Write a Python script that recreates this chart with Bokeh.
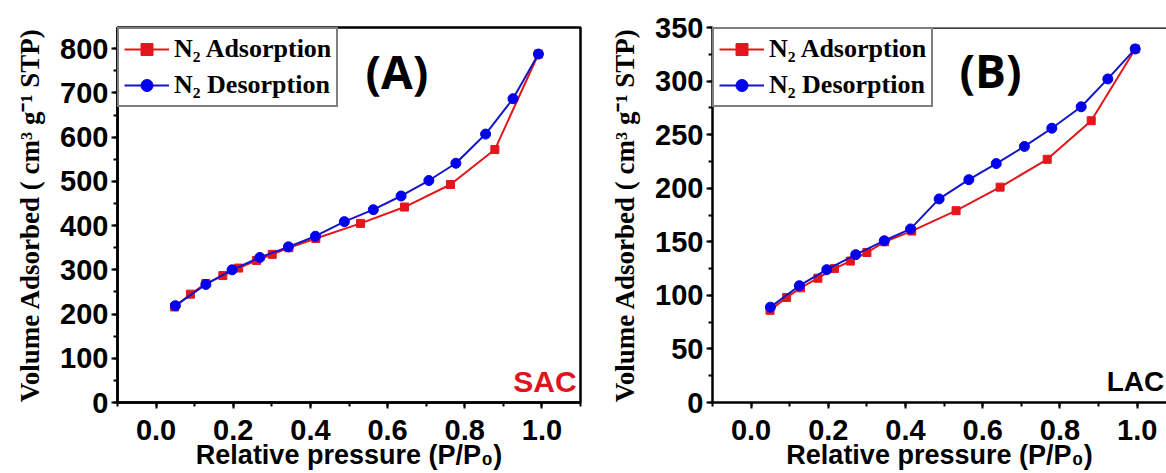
from bokeh.plotting import figure
from bokeh.layouts import row
from bokeh.models import (Legend, LegendItem, Label, SingleIntervalTicker,
                          NumeralTickFormatter, Range1d, Span)
from bokeh.embed import file_html
from bokeh.resources import INLINE

# ---------------- data ----------------
sac_ads_p = [0.048, 0.089, 0.129, 0.173, 0.214, 0.260, 0.301, 0.344, 0.414, 0.530, 0.644, 0.763, 0.878, 0.991]
sac_ads_v = [216, 245, 269, 287, 304, 321, 335, 350, 371, 405, 442, 493, 572, 788]
sac_des_p = [0.991, 0.925, 0.854, 0.777, 0.707, 0.635, 0.563, 0.488, 0.413, 0.343, 0.269, 0.197, 0.129, 0.050]
sac_des_v = [788, 687, 607, 541, 502, 467, 436, 409, 376, 352, 328, 300, 267, 219]

lac_ads_p = [0.049, 0.092, 0.128, 0.173, 0.216, 0.257, 0.300, 0.346, 0.416, 0.531, 0.645, 0.767, 0.881, 0.995]
lac_ads_v = [86, 98, 107, 116, 125, 132, 140, 150, 160, 179, 201, 227, 263, 330]
lac_des_p = [0.995, 0.924, 0.855, 0.779, 0.708, 0.635, 0.564, 0.487, 0.413, 0.345, 0.271, 0.196, 0.125, 0.050]
lac_des_v = [330, 302, 276, 256, 239, 223, 208, 190, 162, 151, 138, 124, 109, 89]

x_ticks_step = 0.2
ads_label = "N\u2082 Adsorption"
des_label = "N\u2082 Desorption"
x_title = "Relative pressure (P/P\u2080)"
y_title = "Volume Adsorbed ( cm\u00b3 g\u207b\u00b9 STP)"

RED = "#e3161c"
BLUE = "#1414c8"
TICK_FONT = "Liberation Sans"
SERIF = "Liberation Serif"


def style_axes(p, y_step):
    p.xaxis.ticker = SingleIntervalTicker(interval=x_ticks_step, num_minor_ticks=2)
    p.yaxis.ticker = SingleIntervalTicker(interval=y_step, num_minor_ticks=2)
    p.xaxis.formatter = NumeralTickFormatter(format="0.0")
    for ax in (p.xaxis, p.yaxis):
        ax.axis_line_width = 2.5
        ax.axis_line_color = "black"
        ax.major_tick_line_width = 2
        ax.minor_tick_line_width = 2
        ax.major_tick_out = 6
        ax.major_tick_in = 0
        ax.minor_tick_out = 4
        ax.minor_tick_in = 0
        ax.major_label_text_font = TICK_FONT
        ax.major_label_text_font_style = "bold"
        ax.major_label_text_font_size = "29px"
        ax.major_label_text_color = "black"
    p.xaxis.major_label_standoff = 11
    p.yaxis.major_label_standoff = 3
    p.xaxis.axis_label = x_title
    p.xaxis.axis_label_text_font = TICK_FONT
    p.xaxis.axis_label_text_font_style = "bold"
    p.xaxis.axis_label_text_font_size = "27px"
    p.xaxis.axis_label_standoff = -3
    p.xaxis.axis_label_text_color = "black"
    p.yaxis.axis_label = y_title
    p.yaxis.axis_label_text_font = SERIF
    p.yaxis.axis_label_text_font_style = "bold"
    p.yaxis.axis_label_text_font_size = "27px"
    p.yaxis.axis_label_standoff = 12
    p.yaxis.axis_label_text_color = "black"
    p.xgrid.visible = False
    p.ygrid.visible = False


def add_series(p, ap, av, dp, dv):
    r1 = p.line(ap, av, line_color=RED, line_width=2)
    r2 = p.scatter(ap, av, marker="square", size=8, fill_color=RED, line_color=RED)
    r3 = p.line(dp, dv, line_color=BLUE, line_width=2)
    r4 = p.scatter(dp, dv, marker="circle", size=10, fill_color="#0000ee", line_color="#0000ee")
    legend = Legend(items=[LegendItem(label=ads_label, renderers=[r1, r2]),
                           LegendItem(label=des_label, renderers=[r3, r4])],
                    location="top_left", margin=0, padding=5, spacing=6,
                    glyph_width=45, glyph_height=30, label_height=30,
                    label_standoff=5,
                    label_text_font=SERIF, label_text_font_style="bold",
                    label_text_font_size="26px", label_text_color="black",
                    border_line_color="black", border_line_width=2,
                    background_fill_color="white", background_fill_alpha=1.0)
    p.add_layout(legend)


# ---------------- panel A ----------------
pa = figure(width=598, height=473, output_backend="svg", toolbar_location=None,
            x_range=Range1d(-0.1, 1.1), y_range=Range1d(0, 848),
            min_border_left=117, min_border_right=18, min_border_top=27, min_border_bottom=68)
pa.outline_line_color = "black"
pa.outline_line_width = 2.5
pa.background_fill_color = "white"
pa.border_fill_color = "white"
style_axes(pa, 100)
add_series(pa, sac_ads_p, sac_ads_v, sac_des_p, sac_des_v)
pa.add_layout(Label(x=0.624, y=750, text="(A)", text_align="center", text_baseline="middle",
                    text_font="Open Sans", text_font_style="bold", text_font_size="46px",
                    text_color="black"))
pa.add_layout(Label(x=1.09, y=48, text="SAC", text_align="right", text_baseline="middle",
                    text_font=TICK_FONT, text_font_style="bold", text_font_size="30px",
                    text_color="#e0141c"))

# ---------------- panel B ----------------
pb = figure(width=568, height=473, output_backend="svg", toolbar_location=None,
            x_range=Range1d(-0.1, 1.076), y_range=Range1d(0, 350),
            min_border_left=114, min_border_right=0, min_border_top=21, min_border_bottom=71)
pb.outline_line_color = None
pb.background_fill_color = "white"
pb.border_fill_color = "white"
style_axes(pb, 50)
pb.add_layout(Span(location=350, dimension="width", line_color="black", line_width=2.5))
add_series(pb, lac_ads_p, lac_ads_v, lac_des_p, lac_des_v)
pb.add_layout(Label(x=0.62, y=310, text="(B)", text_align="center", text_baseline="middle",
                    text_font="Open Sans", text_font_style="bold", text_font_size="46px",
                    text_color="black"))
pb.add_layout(Label(x=1.07, y=20, text="LAC", text_align="right", text_baseline="middle",
                    text_font=TICK_FONT, text_font_style="bold", text_font_size="28px",
                    text_color="black"))

layout = row(pa, pb)
open("out.html", "w").write(file_html(layout, INLINE))
